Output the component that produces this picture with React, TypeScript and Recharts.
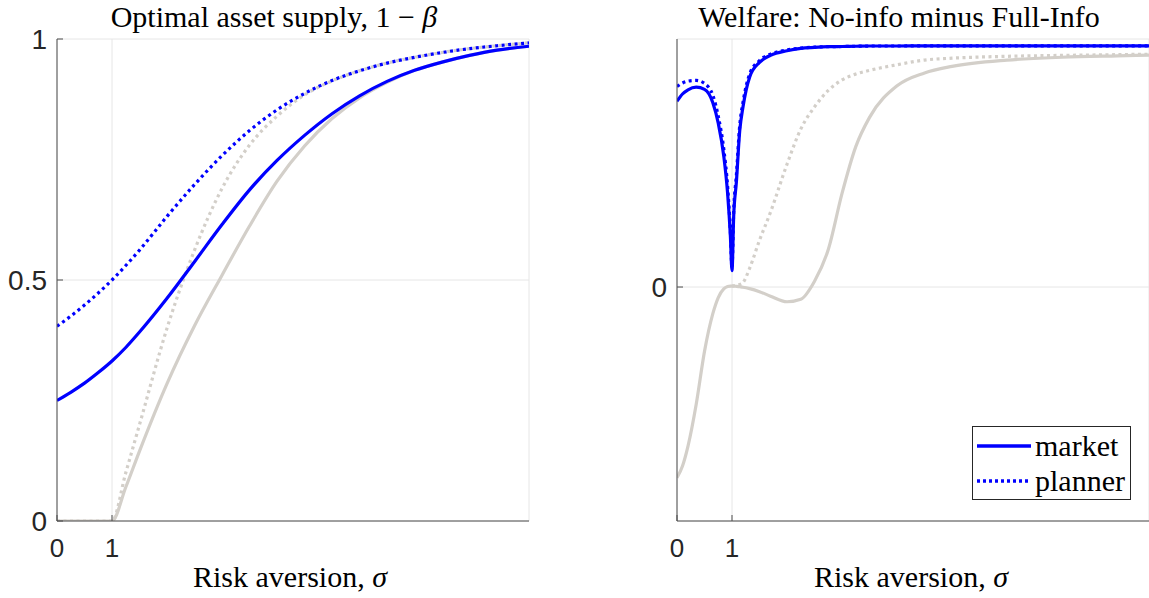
import {
  CartesianGrid,
  Legend,
  Line,
  LineChart,
  XAxis,
  YAxis,
} from "recharts";

// left panel: optimal asset supply 1 - beta
const sigmaLeft = [0, 0.25, 0.5, 0.75, 1, 1.25, 1.5, 2, 2.5, 3, 3.5, 4, 4.5, 5, 5.5, 6, 6.5, 7, 7.5, 8, 8.58];
const marketLeft = [0.25, 0.267, 0.286, 0.308, 0.332, 0.36, 0.392, 0.462, 0.538, 0.615, 0.687, 0.748, 0.8, 0.845, 0.882, 0.912, 0.935, 0.952, 0.966, 0.977, 0.985];
const plannerLeft = [0.404, 0.425, 0.448, 0.473, 0.5, 0.53, 0.562, 0.632, 0.698, 0.758, 0.81, 0.853, 0.887, 0.914, 0.934, 0.95, 0.962, 0.972, 0.98, 0.986, 0.992];
const marketFullLeft = [0, 0, 0, 0, 0, 0.07, 0.145, 0.285, 0.405, 0.51, 0.612, 0.705, 0.778, 0.835, 0.878, 0.91, 0.935, 0.952, 0.966, 0.977, 0.985];
const plannerFullLeft = [0, 0, 0, 0, 0, 0.1, 0.2, 0.4, 0.562, 0.69, 0.78, 0.84, 0.884, 0.913, 0.934, 0.95, 0.962, 0.972, 0.98, 0.986, 0.992];

// right panel: welfare, no-info minus full-info
const sigmaRight = [0, 0.1, 0.2, 0.35, 0.5, 0.65, 0.75, 0.85, 0.92, 0.97, 1, 1.03, 1.08, 1.14, 1.2, 1.32, 1.5, 1.7, 2, 2.25, 2.5, 2.75, 3, 3.25, 3.5, 4, 4.5, 5, 6, 7, 8, 8.58];
const marketRight = [0.794, 0.825, 0.843, 0.854, 0.845, 0.789, 0.7, 0.56, 0.4, 0.22, 0.07, 0.3, 0.45, 0.667, 0.77, 0.897, 0.96, 0.99, 1.01, 1.02, 1.024, 1.027, 1.028, 1.029, 1.03, 1.03, 1.031, 1.031, 1.031, 1.031, 1.031, 1.031];
const plannerRight = [0.857, 0.872, 0.88, 0.883, 0.87, 0.82, 0.73, 0.59, 0.43, 0.24, 0.08, 0.32, 0.48, 0.69, 0.79, 0.91, 0.968, 0.995, 1.013, 1.021, 1.025, 1.027, 1.028, 1.029, 1.03, 1.03, 1.031, 1.031, 1.031, 1.031, 1.031, 1.031];
const marketFullRight = [-0.815, -0.765, -0.68, -0.5, -0.275, -0.115, -0.045, -0.008, 0.002, 0.004, 0.004, 0.004, 0.003, 0.001, -0.001, -0.007, -0.02, -0.039, -0.063, -0.052, 0.025, 0.16, 0.4, 0.6, 0.725, 0.86, 0.915, 0.943, 0.97, 0.982, 0.988, 0.991];
const plannerFullRight = [null, null, null, null, null, null, null, null, null, null, 0.004, 0.005, 0.007, 0.011, 0.019, 0.08, 0.2, 0.32, 0.525, 0.675, 0.77, 0.84, 0.885, 0.91, 0.926, 0.95, 0.97, 0.978, 0.986, 0.99, 0.993, 0.995];

const leftTicksY = [0, 0.5, 1];
const rightTicksY = [0];
const ticksX = [0, 1];

const leftData = sigmaLeft.map((s, i) => ({
  s,
  market: marketLeft[i],
  planner: plannerLeft[i],
  marketFull: marketFullLeft[i],
  plannerFull: plannerFullLeft[i],
}));

const rightData = sigmaRight.map((s, i) => ({
  s,
  market: marketRight[i],
  planner: plannerRight[i],
  marketFull: marketFullRight[i],
  plannerFull: plannerFullRight[i],
}));

const BLUE = "#0000ff";
const GRAY = "#d3cfc9";
const AXIS = "#4d4d4d";
const SANS = "'Liberation Sans', Arial, sans-serif";
const SERIF = "'Liberation Serif', 'Times New Roman', serif";

const yTickStyle = { fontFamily: SANS, fontSize: 28, fill: "#262626" };
const xTickStyle = { fontFamily: SANS, fontSize: 26, fill: "#262626" };

const LegendBox = () => (
  <div
    style={{
      border: "1px solid #262626",
      background: "#fff",
      fontFamily: SERIF,
      fontSize: 30,
      lineHeight: "35px",
      padding: "1px 5px 1px 4px",
      color: "#000",
    }}
  >
    {[
      { name: "market", dash: undefined },
      { name: "planner", dash: "3 3" },
    ].map((d) => (
      <div key={d.name} style={{ display: "flex", alignItems: "center" }}>
        <svg width={55} height={10} style={{ marginRight: 3 }}>
          <line x1={0} y1={5} x2={54} y2={5} stroke={BLUE} strokeWidth={3.5} strokeDasharray={d.dash} />
        </svg>
        <span>{d.name}</span>
      </div>
    ))}
  </div>
);

const Panel = ({ data, ticksY, domainY, yAxisWidth, rightMargin, legend }: any) => (
  <LineChart
    width={yAxisWidth + 472 + rightMargin}
    height={598}
    data={data}
    margin={{ top: 39, right: rightMargin, left: 0, bottom: 0 }}
  >
    <CartesianGrid stroke="#e6e6e6" strokeWidth={1} />
    <XAxis
      dataKey="s"
      type="number"
      domain={[0, 8.58]}
      ticks={ticksX}
      height={77}
      tickSize={-6}
      tickMargin={24}
      stroke={AXIS}
      tick={xTickStyle}
      allowDataOverflow
    />
    <XAxis
      xAxisId="top"
      orientation="top"
      dataKey="s"
      type="number"
      domain={[0, 8.58]}
      ticks={ticksX}
      height={0}
      tickSize={-6}
      tick={false}
      stroke={AXIS}
    />
    <YAxis
      type="number"
      domain={domainY}
      ticks={ticksY}
      width={yAxisWidth}
      tickSize={-6}
      tickMargin={16}
      stroke={AXIS}
      tick={yTickStyle}
      tickFormatter={(v: number) => String(v)}
      allowDataOverflow
    />
    <YAxis
      yAxisId="r"
      orientation="right"
      type="number"
      domain={domainY}
      ticks={ticksY}
      width={0}
      tickSize={-6}
      tick={false}
      stroke={AXIS}
    />
    <Line type="monotone" dataKey="marketFull" stroke={GRAY} strokeWidth={3.2} dot={false} isAnimationActive={false} />
    <Line type="monotone" dataKey="plannerFull" stroke={GRAY} strokeWidth={3.2} strokeDasharray="3 3.5" dot={false} isAnimationActive={false} />
    <Line type="monotone" dataKey="market" stroke={BLUE} strokeWidth={3.2} dot={false} isAnimationActive={false} />
    <Line type="monotone" dataKey="planner" stroke={BLUE} strokeWidth={3.2} strokeDasharray="3 3.5" dot={false} isAnimationActive={false} />
    {legend && (
      <Legend
        layout="vertical"
        align="center"
        verticalAlign="middle"
        content={() => <LegendBox />}
        wrapperStyle={{ position: "absolute", left: 372, top: 426, width: "auto" }}
      />
    )}
  </LineChart>
);

const titleStyle = (center: number): any => ({
  position: "absolute",
  left: center - 300,
  width: 600,
  top: 0,
  textAlign: "center",
  fontFamily: SERIF,
  fontSize: 30,
  lineHeight: "34px",
  color: "#000",
});

const xLabelStyle = (center: number): any => ({
  ...titleStyle(center),
  top: 560,
});

export default function App() {
  return (
    <div style={{ position: "absolute", left: 0, top: 0, width: 1149, height: 598, background: "#fff", overflow: "hidden" }}>
      <div style={{ position: "absolute", left: 0, top: 0 }}>
        <Panel data={leftData} ticksY={leftTicksY} domainY={[0, 1]} yAxisWidth={57} rightMargin={31} />
      </div>
      <div style={{ position: "absolute", left: 600, top: 0 }}>
        <Panel data={rightData} ticksY={rightTicksY} domainY={[-1, 1.06]} yAxisWidth={77} rightMargin={0} legend />
      </div>
      <div style={titleStyle(274)}>
        Optimal asset supply, 1 − <i>β</i>
      </div>
      <div style={titleStyle(899)}>Welfare: No-info minus Full-Info</div>
      <div style={xLabelStyle(290)}>
        Risk aversion, <i>σ</i>
      </div>
      <div style={xLabelStyle(911)}>
        Risk aversion, <i>σ</i>
      </div>
    </div>
  );
}
